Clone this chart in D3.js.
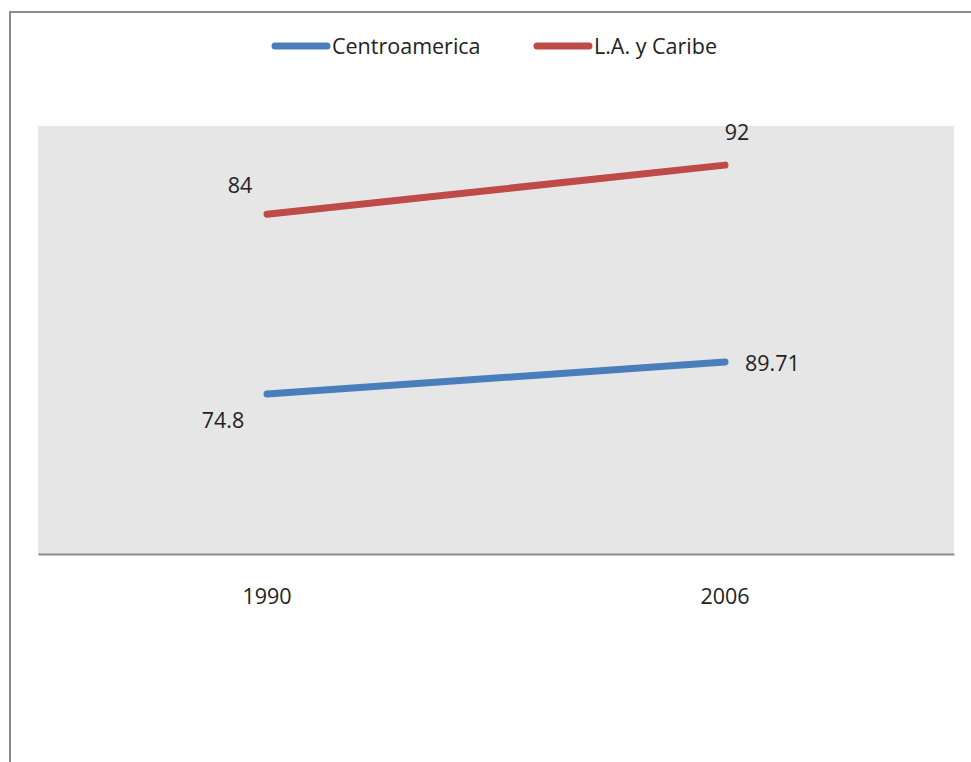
<!DOCTYPE html>
<html><head><meta charset="utf-8">
<script src="https://cdn.jsdelivr.net/npm/d3@7"></script>
<style>body{margin:0;background:#fff}svg{display:block}text{font-family:"Open Sans","Noto Sans",sans-serif;fill:#222}</style>
</head><body>
<svg id="c" width="971" height="762"></svg>
<script>
const categories = ["1990", "2006"];
const seriesNames = ["Centroamerica", "L.A. y Caribe"];
const centroamerica = [74.8, 89.71];
const laCaribe = [84, 92];
const colors = ["#4a7ebb", "#be4b48"];

const svg = d3.select("#c");
const W = 971, H = 762;
const FS = 21.5;
// outer chart border (left and top visible)
svg.append("path").attr("d", `M10,${H} L10,12 L${W},12`).attr("fill","none").attr("stroke","#8c8c8c").attr("stroke-width",2);

const plot = {l:38, r:954, t:126, b:554};
svg.append("rect").attr("x",plot.l).attr("y",plot.t).attr("width",plot.r-plot.l).attr("height",plot.b-plot.t).attr("fill","#e6e6e6");

const x = d3.scaleBand().domain(categories).range([plot.l, plot.r]);
const y = d3.scaleLinear().domain([0,200]).range([plot.b, plot.t]);

const table = categories.map((c,i)=>({cat:c, s0:centroamerica[i], s1:laCaribe[i]}));
const stack = d3.stack().keys(["s0","s1"])(table);

const xAxis = d3.axisBottom(x).tickSize(0).tickPadding(35);
const ax = svg.append("g").attr("transform",`translate(0,${plot.b})`).call(xAxis);
ax.select(".domain").attr("stroke","#8c8c8c").attr("stroke-width",2);
ax.selectAll("text").attr("font-size",FS).style("font-family",'"Open Sans","Noto Sans",sans-serif').attr("fill","#222");

const line = d3.line().x(d=>x(d.data.cat)+x.bandwidth()/2).y(d=>y(d[1]));
stack.forEach((s,k)=>{
  svg.append("path").datum(s).attr("d",line).attr("fill","none")
    .attr("stroke",colors[k]).attr("stroke-width",7).attr("stroke-linecap","round");
});

// data labels
const raw = [centroamerica, laCaribe];
stack.forEach((s,k)=>{
  s.forEach((d,i)=>{
    const px = x(d.data.cat)+x.bandwidth()/2, py = y(d[1]);
    let dx, dy, anchor;
    if (k===1) { dx = i===0 ? -27 : 12; dy = i===0 ? -21 : -25; anchor="middle"; }
    else if (i===0) { dx = -44; dy = 34; anchor="middle"; }
    else { dx = 20; dy = 9; anchor="start"; }
    svg.append("text").attr("x",px+dx).attr("y",py+dy).attr("text-anchor",anchor)
      .attr("font-size",FS).text(raw[k][i]);
  });
});

// legend
const leg = [{x:275, name:seriesNames[0]}, {x:537, name:seriesNames[1]}];
leg.forEach((l,k)=>{
  svg.append("line").attr("x1",l.x).attr("x2",l.x+52).attr("y1",46).attr("y2",46)
    .attr("stroke",colors[k]).attr("stroke-width",7).attr("stroke-linecap","round");
  svg.append("text").attr("x",l.x+57).attr("y",54).attr("font-size",FS).text(l.name);
});
</script>
</body></html>
